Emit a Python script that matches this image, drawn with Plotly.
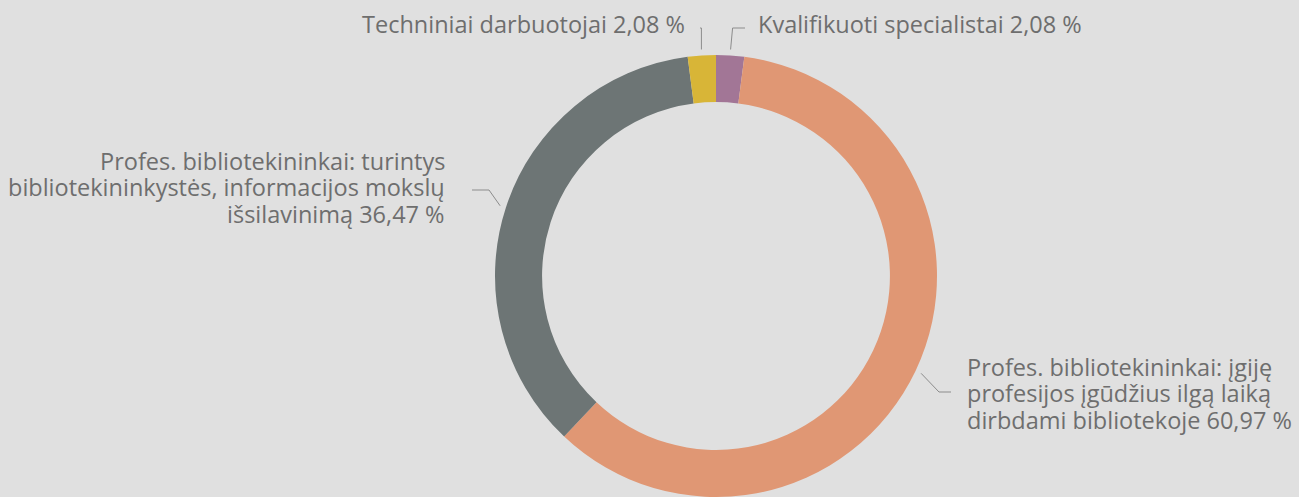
import math
import plotly.graph_objects as go

# Staff structure shares (%), clockwise from 12 o'clock
categories = [
    "Kvalifikuoti specialistai",
    "Profes. bibliotekininkai: įgiję profesijos įgūdžius ilgą laiką dirbdami bibliotekoje",
    "Profes. bibliotekininkai: turintys bibliotekininkystės, informacijos mokslų išsilavinimą",
    "Techniniai darbuotojai",
]
shares = [2.08, 60.97, 36.47, 2.08]
label_lines = [
    ["Kvalifikuoti specialistai"],
    ["Profes. bibliotekininkai: įgiję", "profesijos įgūdžius ilgą laiką", "dirbdami bibliotekoje"],
    ["Profes. bibliotekininkai: turintys", "bibliotekininkystės, informacijos mokslų", "išsilavinimą"],
    ["Techniniai darbuotojai"],
]
colors = ["#a27696", "#e09774", "#6d7575", "#d8b537"]

W, H = 1299, 497
BG = "#e0e0e0"
TEXT = "#6e6e6e"
LEADER = "#8c8c8c"
FONT = dict(family="Open Sans, sans-serif", size=23.5, color=TEXT)
LINE_GAP = 26.5

# donut placement in pixels
cx, r_out = 716, 221
top = 55
dom_x = [(cx - r_out - 2) / W, (cx + r_out + 2) / W]
dom_y = [0, 1 - top / H]
cy = top + (H - top) / 2

fig = go.Figure()
fig.add_trace(go.Pie(
    labels=categories, values=shares, sort=False, direction="clockwise",
    rotation=0, hole=0.787, textinfo="none", hoverinfo="label+percent",
    marker=dict(colors=colors, line=dict(width=0)),
    domain=dict(x=dom_x, y=dom_y), showlegend=False,
))

def fmt(v):
    return f"{v:.2f}".replace(".", ",") + " %"

# label anchors: (x, y of the middle text line, side)
anchors = [
    (756, 24, "left"),
    (965, 393, "left"),
    (447, 187, "right"),
    (687, 24, "right"),
]

total = sum(shares)
cum = 0.0
annotations = []
for v, lines, (ax, ay, side) in zip(shares, label_lines, anchors):
    mid = (cum + v / 2) / total * 2 * math.pi
    cum += v
    px = cx + (r_out + 6) * math.sin(mid)
    py = cy - (r_out + 6) * math.cos(mid)
    if side == "left":
        hx_end, hx_start = ax - 14, ax - 26
    else:
        hx_end, hx_start = ax + 25, ax + 42
    if ay < 50:
        # top labels: short horizontal, then down to the ring
        ly = ay + 4
        hx_end = ax - 11 if side == "left" else ax + 13
        xs = [hx_end, px + (2 if side == "left" else 0), px]
        ys = [ly, ly, py]
    else:
        ly = ay - 1 if side == "left" else ay + 3
        xs = [hx_end, hx_start, px]
        ys = [ly, ly, py]
    fig.add_trace(go.Scatter(
        x=xs, y=ys, mode="lines", line=dict(color=LEADER, width=1),
        hoverinfo="skip", showlegend=False, xaxis="x", yaxis="y",
    ))
    text_rows = lines[:-1] + [lines[-1] + " " + fmt(v)]
    n = len(text_rows)
    for i, row in enumerate(text_rows):
        annotations.append(dict(
            x=ax, y=ay + (i - (n - 1) / 2) * LINE_GAP, xref="x", yref="y",
            text=row, showarrow=False, xanchor=side, yanchor="middle",
            align=side, font=FONT,
        ))

fig.update_layout(
    width=W, height=H, margin=dict(l=0, r=0, t=0, b=0),
    paper_bgcolor=BG, plot_bgcolor=BG,
    xaxis=dict(range=[0, W], visible=False, fixedrange=True),
    yaxis=dict(range=[H, 0], visible=False, fixedrange=True),
    annotations=annotations,
)
fig.write_html("out.html")
